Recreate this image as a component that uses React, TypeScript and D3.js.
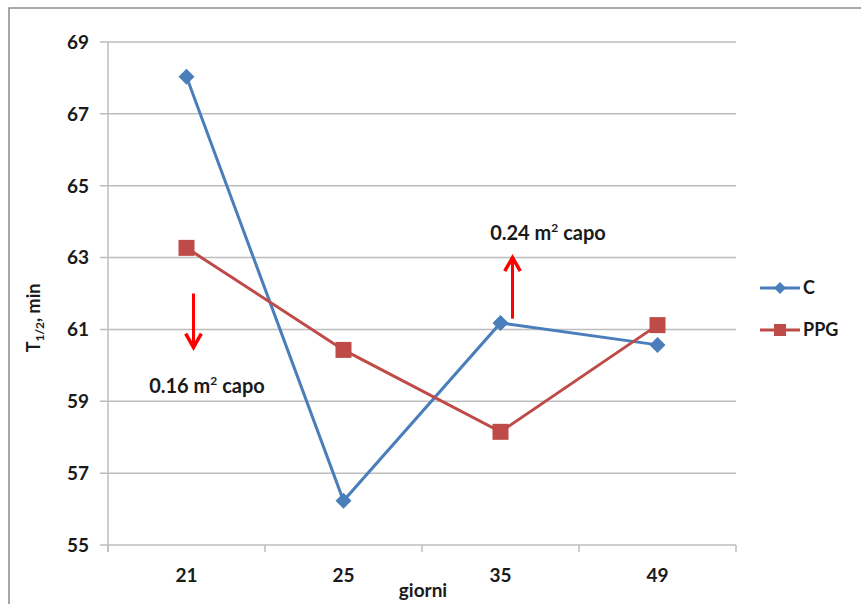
import React from "react";
import * as d3 from "d3";

const days = ["21", "25", "35", "49"];
const seriesC = [68.03, 56.23, 61.18, 60.57];
const seriesPPG = [63.27, 60.43, 58.15, 61.12];
const yTicks = [55, 57, 59, 61, 63, 65, 67, 69];

const W = 861;
const H = 604;
const M = { left: 108, right: 736, top: 42, bottom: 545 };
const BLUE = "#4a7ebb";
const RED = "#be4b48";
const INK = "#1a1a1a";
const FONT = "Lato, 'Open Sans', sans-serif";

export default function App() {
  const x = d3.scaleBand<string>().domain(days).range([M.left, M.right]);
  const y = d3.scaleLinear().domain([55, 69]).range([M.bottom, M.top]);
  const cx = (d: string) => (x(d) as number) + x.bandwidth() / 2;

  const line = d3
    .line<number>()
    .x((_, i) => cx(days[i]))
    .y((v) => y(v));

  const diamond = (px: number, py: number, r: number) =>
    `M${px},${py - r}L${px + r},${py}L${px},${py + r}L${px - r},${py}Z`;

  const boundaries = d3.range(days.length + 1).map((i) => M.left + i * x.bandwidth());

  return (
    <div style={{ position: "absolute", left: 0, top: 0 }}>
      <svg width={W} height={H} style={{ display: "block", fontFamily: FONT }}>
        <rect x={0} y={0} width={W} height={H} fill="#fff" />
        <rect x={9} y={8} width={W + 20} height={H + 20} fill="none" stroke="#8c8c8c" strokeWidth={1.5} />

        {/* horizontal gridlines with left tick stubs */}
        {yTicks.map((t) => (
          <g key={t}>
            <line x1={M.left - 8} x2={M.right} y1={y(t)} y2={y(t)} stroke="#bdbdbd" strokeWidth={1.5} />
            <text x={89} y={y(t)} dy="0.36em" textAnchor="end" fontSize={19} fontWeight={700} fill={INK}>
              {t}
            </text>
          </g>
        ))}

        {/* y axis line */}
        <line x1={M.left} x2={M.left} y1={M.top} y2={M.bottom + 7} stroke="#bdbdbd" strokeWidth={1.5} />
        {/* x category boundary ticks */}
        {boundaries.map((b, i) => (
          <line key={i} x1={b} x2={b} y1={M.bottom} y2={M.bottom + 7} stroke="#bdbdbd" strokeWidth={1.5} />
        ))}

        {days.map((d) => (
          <text key={d} x={cx(d)} y={575} dy="0.36em" textAnchor="middle" fontSize={19} fontWeight={700} fill={INK}>
            {d}
          </text>
        ))}
        <text x={423} y={590} dy="0.36em" textAnchor="middle" fontSize={19} fontWeight={700} fill={INK}>
          giorni
        </text>
        <text
          transform={`translate(34,318) rotate(-90)`}
          textAnchor="middle"
          dy="0.36em"
          fontSize={18}
          fontWeight={700}
          fill={INK}
        >
          T<tspan fontSize={12} dy="4">1/2</tspan>
          <tspan dy="-4">, min</tspan>
        </text>

        {/* series */}
        <path d={line(seriesC) || ""} fill="none" stroke={BLUE} strokeWidth={3} />
        <path d={line(seriesPPG) || ""} fill="none" stroke={RED} strokeWidth={3} />
        {seriesC.map((v, i) => (
          <path key={"c" + i} d={diamond(cx(days[i]), y(v), 8)} fill={BLUE} />
        ))}
        {seriesPPG.map((v, i) => (
          <rect key={"p" + i} x={cx(days[i]) - 8} y={y(v) - 8} width={16} height={16} fill={RED} />
        ))}

        {/* annotations */}
        <defs>
          <marker id="arrowHead" viewBox="0 0 10 10" refX="8" refY="5" markerWidth="6.5" markerHeight="6.5" orient="auto">
            <path d="M1,1L8,5L1,9" fill="none" stroke="#ff0000" strokeWidth={1.8} />
          </marker>
        </defs>
        <line
          x1={cx("21") + 7}
          x2={cx("21") + 7}
          y1={y(62.0)}
          y2={y(60.5)}
          stroke="#ff0000"
          strokeWidth={3}
          markerEnd="url(#arrowHead)"
        />
        <text x={207} y={386} dy="0.36em" textAnchor="middle" fontSize={20} fontWeight={700} fill={INK}>
          0.16 m<tspan fontSize={12} dy="-8">2</tspan>
          <tspan dy="8"> capo</tspan>
        </text>
        <line
          x1={cx("35") + 12}
          x2={cx("35") + 12}
          y1={y(61.3)}
          y2={y(63.0)}
          stroke="#ff0000"
          strokeWidth={3}
          markerEnd="url(#arrowHead)"
        />
        <text x={548} y={233} dy="0.36em" textAnchor="middle" fontSize={20} fontWeight={700} fill={INK}>
          0.24 m<tspan fontSize={12} dy="-8">2</tspan>
          <tspan dy="8"> capo</tspan>
        </text>

        {/* legend */}
        <g>
          <line x1={760} x2={800} y1={288} y2={288} stroke={BLUE} strokeWidth={3} />
          <path d={diamond(780, 288, 6)} fill={BLUE} />
          <text x={803} y={288} dy="0.36em" fontSize={18} fontWeight={700} fill={INK}>C</text>
          <line x1={760} x2={800} y1={330} y2={330} stroke={RED} strokeWidth={3} />
          <rect x={774} y={324} width={12} height={12} fill={RED} />
          <text x={803} y={330} dy="0.36em" fontSize={18} fontWeight={700} fill={INK}>PPG</text>
        </g>
      </svg>
    </div>
  );
}
